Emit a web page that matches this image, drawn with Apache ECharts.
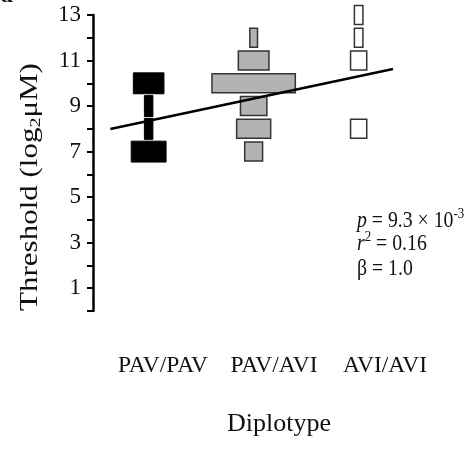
<!DOCTYPE html>
<html>
<head>
<meta charset="utf-8">
<script src="https://cdn.jsdelivr.net/npm/echarts@6/dist/echarts.min.js"></script>
<style>html,body{margin:0;padding:0;background:#fff}#c{width:471px;height:449px}</style>
</head>
<body>
<div id="c"></div>
<script>
// ---- data ----
const categories = ['PAV/PAV', 'PAV/AVI', 'AVI/AVI'];
// threshold levels (log2 µM) and relative frequency (bar width) per diplotype
const pavpavLevels = [10, 9, 8, 7];
const pavpavFreq   = [3.6, 1.0, 1.0, 4.1];
const pavaviLevels = [12, 11, 10, 9, 8, 7];
const pavaviFreq   = [0.9, 3.6, 9.8, 3.1, 4.0, 2.1];
const aviaviLevels = [13, 12, 11, 8];
const aviaviFreq   = [1.0, 1.0, 1.9, 1.9];
// regression line end points [diplotype index, threshold]
const fitLine = [[0.635, 7.99], [3.327, 10.63]];
const yTickLabels = [1, 3, 5, 7, 9, 11, 13];
const stats = { p: '9.3', pExp: '-3', r2: '0.16', beta: '1.0' };

// ---- build ----
const FONT = '"Liberation Serif", "Times New Roman", serif';
const W_UNIT = 0.081;   // x-data units per frequency unit
function cells(levels, freq, idx) {
  return levels.map((lv, i) => [idx + 1, lv, freq[i]]);
}
function makeRender(fill, stroke, lw, h) {
  return function (params, api) {
    const c = api.coord([api.value(0), api.value(1)]);
    const s = api.size([api.value(2) * W_UNIT, h]);
    return {
      type: 'rect',
      shape: { x: c[0] - s[0] / 2, y: c[1] - s[1] / 2, width: s[0], height: s[1] },
      style: { fill: fill, stroke: stroke, lineWidth: lw }
    };
  };
}

const chart = echarts.init(document.getElementById('c'), null, { renderer: 'canvas' });
chart.setOption({
  animation: false,
  backgroundColor: '#fff',
  grid: [
    { left: 93, right: 63, top: 15, bottom: 138 },
    { left: 107.5, right: 30.5, top: 15, bottom: 138 }
  ],
  xAxis: [
    { type: 'value', gridIndex: 0, min: 0.47, max: 3.47, show: false },
    {
      type: 'category', gridIndex: 1, data: categories,
      axisLine: { show: false }, axisTick: { show: false },
      axisLabel: { interval: 0, hideOverlap: false, margin: 43, fontFamily: FONT, fontSize: 23.5, color: '#111' },
      name: 'Diplotype', nameLocation: 'middle', nameGap: 100,
      nameTextStyle: { fontFamily: FONT, fontSize: 26, color: '#111', padding: [0, 0, 0, 10] }
    }
  ],
  yAxis: [
    {
      type: 'value', gridIndex: 0, min: 0, max: 13, interval: 1,
      splitLine: { show: false },
      axisLine: { show: true, lineStyle: { color: '#000', width: 2.5 } },
      axisTick: { show: true, inside: false, length: 6, lineStyle: { color: '#000', width: 2 } },
      axisLabel: {
        margin: 12, fontFamily: FONT, fontSize: 23, color: '#111',
        formatter: v => (yTickLabels.indexOf(v) >= 0 ? String(v) : '')
      }
    },
    { type: 'value', gridIndex: 1, min: 0, max: 13, show: false }
  ],
  series: [
    {
      type: 'custom', xAxisIndex: 0, yAxisIndex: 0, z: 2,
      renderItem: makeRender('#000', '#000', 1, 0.92),
      data: cells(pavpavLevels, pavpavFreq, 0)
    },
    {
      type: 'custom', xAxisIndex: 0, yAxisIndex: 0, z: 2,
      renderItem: makeRender('#b3b3b3', '#333', 1.5, 0.835),
      data: cells(pavaviLevels, pavaviFreq, 1)
    },
    {
      type: 'custom', xAxisIndex: 0, yAxisIndex: 0, z: 2,
      renderItem: makeRender('#fff', '#333', 1.5, 0.835),
      data: cells(aviaviLevels, aviaviFreq, 2)
    },
    {
      type: 'line', xAxisIndex: 0, yAxisIndex: 0, z: 5,
      data: fitLine, showSymbol: false, symbol: 'none',
      lineStyle: { color: '#000', width: 2.5 }
    }
  ],
  graphic: [
    {
      type: 'text', x: 31, y: 187, rotation: Math.PI / 2, scaleY: 0.78,
      style: {
        text: 'Threshold (log{sub|2}μM)',
        font: '31px ' + FONT, fill: '#111', align: 'center', verticalAlign: 'middle',
        rich: { sub: { fontFamily: FONT, fontSize: 20, padding: [12, 0, 0, 0], fill: '#111' } }
      }
    },
    {
      type: 'text', x: 357, y: 221, scaleX: 0.86,
      style: {
        text: '{i|p} = ' + stats.p + ' × 10{sup|' + stats.pExp + '}',
        font: '23px ' + FONT, fill: '#111', align: 'left', verticalAlign: 'middle',
        rich: {
          i: { fontFamily: FONT, fontSize: 23, fontStyle: 'italic', fill: '#111' },
          sup: { fontFamily: FONT, fontSize: 15, padding: [0, 0, 13, 0], fill: '#111' }
        }
      }
    },
    {
      type: 'text', x: 357, y: 244, scaleX: 0.86,
      style: {
        text: '{i|r}{sup|2} = ' + stats.r2,
        font: '23px ' + FONT, fill: '#111', align: 'left', verticalAlign: 'middle',
        rich: {
          i: { fontFamily: FONT, fontSize: 23, fontStyle: 'italic', fill: '#111' },
          sup: { fontFamily: FONT, fontSize: 15, padding: [0, 0, 13, 0], fill: '#111' }
        }
      }
    },
    {
      type: 'text', x: 357, y: 269, scaleX: 0.86,
      style: { text: 'β = ' + stats.beta, font: '23px ' + FONT, fill: '#111', align: 'left', verticalAlign: 'middle' }
    },
    {
      type: 'text', x: 1, y: 8,
      style: { text: 'a', font: 'bold 24px ' + FONT, fill: '#111', align: 'left', verticalAlign: 'bottom' }
    }
  ]
});
</script>
</body>
</html>
